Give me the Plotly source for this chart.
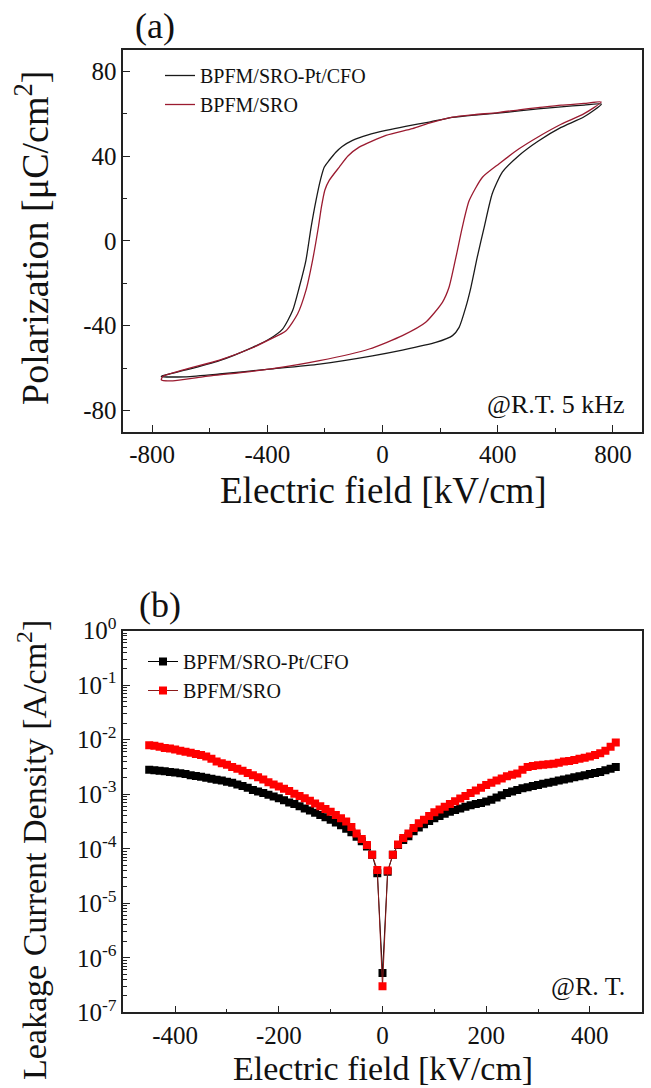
import plotly.graph_objects as go

W, H = 651, 1088
FONT = "Liberation Serif, Times New Roman, serif"

# ---------------- Panel (a): P-E hysteresis loops ----------------
pe_names = ["BPFM/SRO-Pt/CFO", "BPFM/SRO"]
pe_colors = ["#1a1a1a", "#9b1b30"]

E_cfo = [760, 700, 620, 540, 474, 400, 320, 243, 162, 80, 12, -50, -104, -140, -162,
         -185, -202, -215, -231, -248, -266, -289, -312, -347, -393, -451, -566, -682,
         -763, -768, -682, -566, -393, -219, -35, 69, 185, 243, 266, 289, 307, 329, 353,
         381, 416, 474, 540, 620, 700, 760]
P_cfo = [64.5, 64.0, 63.2, 62.2, 61.3, 60.2, 59.3, 58.2, 56.0, 54.0, 52.1, 50.0, 47.4, 44.5,
         41.8, 38.0, 34.8, 29.0, 19.0, 6.4, -9.3, -21.9, -32.9, -41.6, -46.3, -50.2, -56.5,
         -60.9, -63.6, -64.0, -64.1, -62.8, -60.5, -58.1, -54.2, -51.5, -47.9, -44.7, -40.8,
         -31.4, -21.9, -7.7, 6.4, 22.2, 32.4, 40.3, 47.0, 53.5, 58.5, 64.5]

E_sro = [760, 700, 620, 540, 474, 400, 320, 243, 162, 104, 12, -81, -120, -150, -185, -200,
         -212, -222, -243, -266, -295, -335, -393, -451, -566, -682, -763, -768, -728, -624,
         -393, -219, -46, 69, 150, 208, 231, 255, 277, 301, 347, 405, 474, 540, 620, 700, 760]
P_sro = [65.5, 64.8, 64.0, 62.8, 61.8, 60.5, 59.5, 58.3, 55.5, 52.9, 49.7, 44.2, 40.0, 34.8,
         28.5, 24.0, 16.0, 7.0, -9.3, -23.5, -34.5, -42.4, -46.6, -50.4, -56.2, -60.5, -64.0,
         -65.6, -66.0, -64.1, -60.5, -56.5, -51.0, -44.7, -38.4, -29.0, -21.9, -7.7, 6.4, 19.0,
         30.0, 36.4, 43.4, 49.0, 55.0, 60.0, 65.5]

pe_x_ticks = [-800, -400, 0, 400, 800]
pe_x_labels = ["-800", "-400", "0", "400", "800"]
pe_y_ticks = [-80, -40, 0, 40, 80]
pe_y_labels = ["-80", "-40", "0", "40", "80"]

# ---------------- Panel (b): leakage current ----------------
j_names = ["BPFM/SRO-Pt/CFO", "BPFM/SRO"]
j_colors = ["#000000", "#ff0000"]
j_line_colors = ["#000000", "#8b1a1a"]

E_leak = [-450, -440, -430, -420, -410, -400, -390, -380, -370, -360, -350, -340, -330, -320,
          -310, -300, -290, -280, -270, -260, -250, -240, -230, -220, -210, -200, -190, -180,
          -170, -160, -150, -140, -130, -120, -110, -100, -90, -80, -70, -60, -50, -40, -30,
          -20, -10, 0, 10, 20, 30, 40, 50, 60, 70, 80, 90, 100, 110, 120, 130, 140, 150, 160,
          170, 180, 190, 200, 210, 220, 230, 240, 250, 260, 270, 280, 290, 300, 310, 320, 330,
          340, 350, 360, 370, 380, 390, 400, 410, 420, 430, 440, 450]

J_cfo = [2.82e-3, 2.75e-3, 2.69e-3, 2.63e-3, 2.57e-3, 2.51e-3, 2.43e-3, 2.34e-3, 2.24e-3,
         2.16e-3, 2.09e-3, 2.00e-3, 1.93e-3, 1.84e-3, 1.78e-3, 1.70e-3, 1.62e-3, 1.51e-3,
         1.41e-3, 1.32e-3, 1.20e-3, 1.12e-3, 1.05e-3, 9.77e-4, 9.12e-4, 8.41e-4, 7.76e-4,
         7.08e-4, 6.61e-4, 6.03e-4, 5.50e-4, 5.01e-4, 4.57e-4, 4.17e-4, 3.80e-4, 3.39e-4,
         3.02e-4, 2.69e-4, 2.34e-4, 2.00e-4, 1.66e-4, 1.38e-4, 1.10e-4, 7.76e-5, 3.55e-5,
         5.25e-7, 3.80e-5, 7.76e-5, 1.17e-4, 1.45e-4, 1.70e-4, 2.09e-4, 2.45e-4, 2.82e-4,
         3.24e-4, 3.63e-4, 3.98e-4, 4.37e-4, 4.79e-4, 5.13e-4, 5.50e-4, 5.89e-4, 6.31e-4,
         6.61e-4, 6.92e-4, 7.33e-4, 7.94e-4, 8.71e-4, 9.55e-4, 1.05e-3, 1.12e-3, 1.20e-3,
         1.29e-3, 1.35e-3, 1.41e-3, 1.48e-3, 1.55e-3, 1.62e-3, 1.70e-3, 1.78e-3, 1.86e-3,
         1.95e-3, 2.04e-3, 2.14e-3, 2.24e-3, 2.34e-3, 2.45e-3, 2.57e-3, 2.75e-3, 2.95e-3,
         3.16e-3]

J_sro = [7.94e-3, 7.76e-3, 7.41e-3, 7.08e-3, 6.92e-3, 6.61e-3, 6.31e-3, 6.03e-3, 5.75e-3,
         5.50e-3, 5.25e-3, 4.90e-3, 4.47e-3, 3.98e-3, 3.72e-3, 3.47e-3, 3.16e-3, 2.95e-3,
         2.69e-3, 2.45e-3, 2.24e-3, 2.04e-3, 1.86e-3, 1.66e-3, 1.51e-3, 1.38e-3, 1.26e-3,
         1.15e-3, 1.02e-3, 9.33e-4, 8.41e-4, 7.59e-4, 6.76e-4, 6.03e-4, 5.37e-4, 4.79e-4,
         4.17e-4, 3.63e-4, 3.16e-4, 2.51e-4, 1.91e-4, 1.51e-4, 1.17e-4, 7.76e-5, 4.07e-5,
         3.02e-7, 3.98e-5, 7.76e-5, 1.20e-4, 1.58e-4, 1.91e-4, 2.40e-4, 2.95e-4, 3.39e-4,
         3.98e-4, 4.68e-4, 5.25e-4, 5.89e-4, 6.61e-4, 7.41e-4, 8.32e-4, 9.33e-4, 1.05e-3,
         1.17e-3, 1.32e-3, 1.48e-3, 1.62e-3, 1.78e-3, 1.95e-3, 2.14e-3, 2.29e-3, 2.40e-3,
         2.82e-3, 3.16e-3, 3.31e-3, 3.39e-3, 3.47e-3, 3.55e-3, 3.63e-3, 3.80e-3, 3.98e-3,
         4.07e-3, 4.27e-3, 4.47e-3, 4.68e-3, 4.90e-3, 5.25e-3, 5.62e-3, 6.31e-3, 7.41e-3,
         8.91e-3]

leak_x_ticks = [-400, -200, 0, 200, 400]
leak_x_labels = ["-400", "-200", "0", "200", "400"]
log_tick_vals = [1e0, 1e-1, 1e-2, 1e-3, 1e-4, 1e-5, 1e-6, 1e-7]
log_tick_text = ["10<sup>0</sup>", "10<sup>-1</sup>", "10<sup>-2</sup>", "10<sup>-3</sup>",
                 "10<sup>-4</sup>", "10<sup>-5</sup>", "10<sup>-6</sup>", "10<sup>-7</sup>"]

# ---------------- geometry (pixels -> paper) ----------------
def px(x):
    return x / W

def py(y):
    return 1 - y / H

x_dom = [px(123.3), px(641.7)]
top_dom = [py(431.7), py(50)]
bot_dom = [py(1012.3), py(630.7)]

fig = go.Figure()

for E, P, name, col in [(E_cfo, P_cfo, pe_names[0], pe_colors[0]),
                        (E_sro, P_sro, pe_names[1], pe_colors[1])]:
    fig.add_trace(go.Scatter(x=E, y=P, mode="lines", name=name,
                             line=dict(color=col, width=1.3, shape="spline", smoothing=0.6),
                             xaxis="x", yaxis="y", legend="legend"))

for J, name, col, lcol in [(J_cfo, j_names[0], j_colors[0], j_line_colors[0]),
                           (J_sro, j_names[1], j_colors[1], j_line_colors[1])]:
    fig.add_trace(go.Scatter(x=E_leak, y=J, mode="lines+markers", name=name,
                             line=dict(color=lcol, width=1),
                             marker=dict(symbol="square", size=8, color=col, line=dict(width=0)),
                             xaxis="x2", yaxis="y2", legend="legend2"))

axis_common = dict(showline=True, linecolor="#222222", linewidth=1.5, mirror=True,
                   ticks="inside", ticklen=7, tickwidth=1.2, tickcolor="#222222",
                   showgrid=False, zeroline=False, automargin=False,
                   tickfont=dict(family=FONT, size=25, color="#111111"))

minor_tick = dict(ticks="inside", ticklen=4, tickwidth=1.2, tickcolor="#222222", showgrid=False)

log_minor_vals = [m * d for d in [1e-1, 1e-2, 1e-3, 1e-4, 1e-5, 1e-6, 1e-7]
                  for m in [2, 3, 4, 5, 6, 7, 8, 9]]

fig.update_layout(
    width=W, height=H,
    margin=dict(l=0, r=0, t=0, b=0, autoexpand=False),
    paper_bgcolor="white", plot_bgcolor="white",
    font=dict(family=FONT, color="#111111"),
    xaxis=dict(domain=x_dom, anchor="y", range=[-900, 900], tickvals=pe_x_ticks,
               ticktext=pe_x_labels, minor=dict(dtick=200, **minor_tick), **axis_common),
    yaxis=dict(domain=top_dom, anchor="x", range=[-90, 90], tickvals=pe_y_ticks,
               ticktext=pe_y_labels, minor=dict(dtick=20, **minor_tick), **axis_common),
    xaxis2=dict(domain=x_dom, anchor="y2", range=[-500, 500], tickvals=leak_x_ticks,
                ticktext=leak_x_labels, minor=dict(dtick=100, **minor_tick), **axis_common),
    yaxis2=dict(domain=bot_dom, anchor="x2", type="log", range=[-7, 0],
                tickvals=log_tick_vals, ticktext=log_tick_text,
                minor=dict(tickvals=log_minor_vals, **minor_tick), **axis_common),
    legend=dict(x=px(160), y=py(56), xanchor="left", yanchor="top",
                bgcolor="rgba(0,0,0,0)", font=dict(family=FONT, size=20, color="#111111"),
                tracegroupgap=0, itemwidth=30),
    legend2=dict(x=px(143), y=py(642), xanchor="left", yanchor="top",
                 bgcolor="rgba(0,0,0,0)", font=dict(family=FONT, size=20, color="#111111"),
                 tracegroupgap=0, itemwidth=30),
    showlegend=True,
)

ann_font = dict(family=FONT, color="#111111")
annotations = [
    dict(text="(a)", x=px(155), y=py(26), size=36),
    dict(text="(b)", x=px(160), y=py(605), size=36),
    dict(text="Electric field [kV/cm]", x=px(383), y=py(490), size=37),
    dict(text="Electric field [kV/cm]", x=px(383), y=py(1068), size=34),
]
for a in annotations:
    fig.add_annotation(text=a["text"], x=a["x"], y=a["y"], xref="paper", yref="paper",
                       showarrow=False, xanchor="center", yanchor="middle",
                       font=dict(size=a["size"], **ann_font))

fig.add_annotation(text="Polarization [μC/cm<sup>2</sup>]", x=px(32), y=py(238),
                   xref="paper", yref="paper", showarrow=False, textangle=-90,
                   xanchor="center", yanchor="middle", font=dict(size=38, **ann_font))
fig.add_annotation(text="Leakage Current Density [A/cm<sup>2</sup>]", x=px(32), y=py(850),
                   xref="paper", yref="paper", showarrow=False, textangle=-90,
                   xanchor="center", yanchor="middle", font=dict(size=34, **ann_font))

fig.add_annotation(text="@R.T. 5 kHz", x=px(627), y=py(404), xref="paper", yref="paper",
                   showarrow=False, xanchor="right", yanchor="middle",
                   font=dict(size=26, **ann_font))
fig.add_annotation(text="@R. T.", x=px(627), y=py(986), xref="paper", yref="paper",
                   showarrow=False, xanchor="right", yanchor="middle",
                   font=dict(size=26, **ann_font))

fig.write_html("out.html")
